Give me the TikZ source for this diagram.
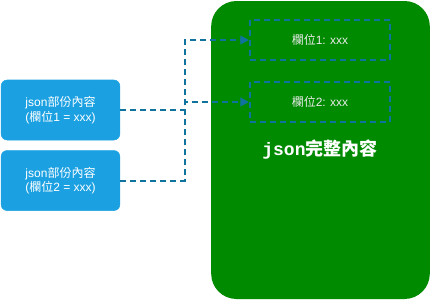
\documentclass[tikz,border=0pt]{standalone}
\usepackage{fontspec}
\setmainfont{Liberation Sans}
\newfontfamily\cjk{Noto Sans CJK TC}
\newfontfamily\monofont{Liberation Mono}
\usetikzlibrary{positioning,arrows.meta}
\definecolor{partblue}{HTML}{1BA1E2}
\definecolor{wholegreen}{HTML}{008A00}
\definecolor{linkblue}{HTML}{10739E}
\begin{document}
\begin{tikzpicture}[x=0.75pt, y=-0.75pt,
  part/.style={draw=partblue, fill=partblue, rounded corners=4.5pt, minimum width=89pt, minimum height=45pt, align=center, text=white, font=\fontsize{9}{11}\selectfont},
  field/.style={draw=linkblue, dash pattern=on 4.5pt off 3pt, line width=1.5pt, minimum width=105pt, minimum height=30pt, text=white!92!black, font=\fontsize{9}{11}\selectfont},
  link/.style={draw=linkblue, line width=1.5pt, dash pattern=on 4.5pt off 3pt, -{Triangle[length=6.5pt,width=6.5pt]}}]
  \useasboundingbox (0,0) rectangle (430,300);
  \node[fill=wholegreen, rounded corners=19pt, minimum width=164pt, minimum height=223.5pt] (whole) at (320.5,150) {};
  \node[part] (part1) at (60.5,110) {json{\cjk 部份內容}\\({\cjk 欄位}1 = xxx)};
  \node[part, below=7.5pt of part1] (part2) {json{\cjk 部份內容}\\({\cjk 欄位}2 = xxx)};
  \node[field] (field1) at (320,40) {{\cjk 欄位}1: xxx};
  \node[field, below=15pt of field1] (field2) {{\cjk 欄位}2: xxx};
  \node[text=white, font=\fontsize{13.5}{16}\selectfont\bfseries] (title) at (320,150) {{\monofont\bfseries json}{\cjk\bfseries 完整內容}};
  \coordinate (bend) at (185,0);

  \draw[link] (part1.east) -- (part1.east -| bend) |- (field1.west);
  \draw[link] (part2.east) -- (part2.east -| bend) |- (field2.west);
\end{tikzpicture}
\end{document}
